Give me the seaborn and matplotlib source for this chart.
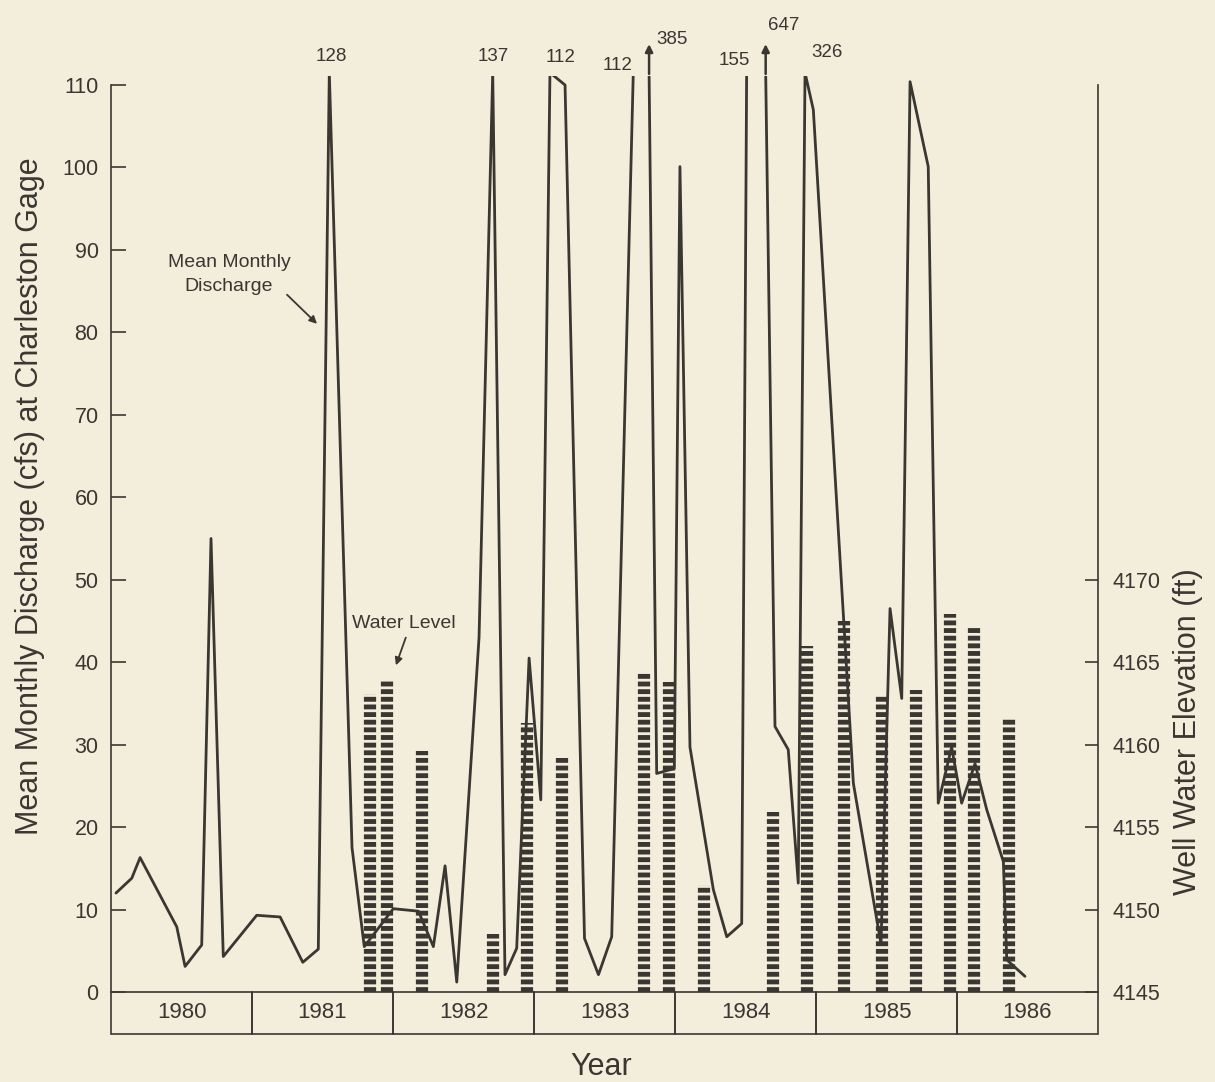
import numpy as np
import matplotlib
matplotlib.use("Agg")
import matplotlib.pyplot as plt
from matplotlib.patches import Rectangle
import seaborn as sns

# ---------------- data ----------------
# mean monthly discharge (cfs) at Charleston gage, time as decimal year
discharge_time = [1980.035, 1980.147, 1980.206, 1980.466, 1980.525, 1980.643, 1980.709, 1980.796,
                  1981.033, 1981.199, 1981.360, 1981.470, 1981.548, 1981.709, 1981.796,
                  1982.002, 1982.180, 1982.286, 1982.369, 1982.452, 1982.610, 1982.707, 1982.794,
                  1982.877, 1982.965, 1983.048, 1983.113, 1983.220, 1983.358, 1983.457, 1983.551,
                  1983.704, 1983.816, 1983.870, 1983.995, 1984.035, 1984.106, 1984.272, 1984.367,
                  1984.473, 1984.508, 1984.643, 1984.709, 1984.803, 1984.874, 1984.922, 1984.981,
                  1985.265, 1985.461, 1985.525, 1985.608, 1985.667, 1985.796, 1985.867, 1985.962,
                  1986.033, 1986.128, 1986.211, 1986.329, 1986.353, 1986.482]
discharge_cfs = [12.0, 13.8, 16.3, 7.9, 3.1, 5.7, 55.0, 4.3,
                 9.3, 9.1, 3.6, 5.2, 128, 17.5, 5.5,
                 10.1, 9.8, 5.5, 15.3, 1.2, 43.0, 137, 2.1,
                 5.3, 40.5, 23.3, 112, 110, 6.5, 2.1, 6.7,
                 112, 385, 26.5, 27.1, 100.1, 29.7, 12.4, 6.7,
                 8.3, 155, 647, 32.2, 29.4, 13.2, 326, 107,
                 25.3, 5.8, 46.5, 35.6, 110.4, 100.1, 22.9, 29.7,
                 22.9, 27.7, 22.1, 15.8, 3.9, 1.9]

# off-scale peaks labelled with their values
peak_labels = ["128", "137", "112", "112", "385", "155", "647", "326"]
peak_label_x = [1981.565, 1982.711, 1983.191, 1983.592, 1983.977, 1984.418, 1984.773, 1985.076]
peak_label_y = [113.4, 113.5, 113.3, 112.4, 115.5, 113.0, 117.2, 114.0]
arrow_peaks_x = [1983.816, 1984.643]   # 385 and 647 continue upward

# well water elevation (ft)
level_time = [1981.837, 1981.960, 1982.204, 1982.707, 1982.948, 1983.196, 1983.782, 1983.960,
              1984.208, 1984.693, 1984.938, 1985.201, 1985.466, 1985.709, 1985.950, 1986.123,
              1986.369]
level_ft = [4163.1, 4164.0, 4159.6, 4148.5, 4161.3, 4159.2, 4164.4, 4163.8,
            4151.5, 4155.9, 4166.0, 4167.5, 4163.0, 4163.3, 4167.9, 4167.2,
            4161.6]

years = [1980, 1981, 1982, 1983, 1984, 1985, 1986]
left_ticks = list(range(0, 111, 10))
right_ticks = list(range(4145, 4171, 5))

# ---------------- style ----------------
BG = "#f2eedb"
INK = "#3a3632"
CAP = 111.5
YTOP = 118.0

sns.set_style("white")
plt.rcParams["font.family"] = ["Liberation Sans", "DejaVu Sans"]
plt.rcParams["lines.scale_dashes"] = False
plt.rcParams["text.color"] = INK

fig = plt.figure(figsize=(12.15, 10.82), dpi=100, facecolor=BG)
ax = fig.add_axes([0.0914, 0.0832, 0.8123, 0.8992])
ax.set_facecolor(BG)

disp = np.minimum(np.array(discharge_cfs, dtype=float), CAP)
sns.lineplot(x=discharge_time, y=disp, ax=ax, sort=False, estimator=None,
             color=INK, linewidth=2.0, zorder=3)
line = ax.lines[-1]
clip = Rectangle((1979.0, -10), 10, 10 + CAP - 0.35, transform=ax.transData)
line.set_clip_path(clip)

ax.set_xlim(1980, 1987)
ax.set_ylim(0, YTOP)
ax.set_xticks([])
ax.set_yticks(left_ticks)
ax.tick_params(axis="y", direction="in", length=11, width=1.2, pad=9,
               labelsize=15.5, colors=INK, left=True)
for s in ["top", "right", "bottom"]:
    ax.spines[s].set_visible(False)
ax.spines["left"].set_bounds(0, 110)
ax.spines["left"].set_color(INK)
ax.spines["left"].set_linewidth(1.2)

# right axis (well elevation): 2 cfs per ft, 0 cfs = 4145 ft
ax2 = ax.twinx()
ax2.set_ylim(4145, 4145 + YTOP / 2)
ax2.vlines(level_time, 4145, level_ft, colors=INK, linewidth=8.8,
           linestyles=[(0, (3.5, 2.0))], zorder=2)
ax2.set_yticks(right_ticks)
ax2.tick_params(axis="y", direction="in", length=9.5, width=1.2, pad=10.5,
                labelsize=15.5, colors=INK, right=True)
for s in ["top", "left", "bottom"]:
    ax2.spines[s].set_visible(False)
ax2.spines["right"].set_bounds(4145, 4200)
ax2.spines["right"].set_color(INK)
ax2.spines["right"].set_linewidth(1.2)

# peak value labels
for lab, lx, ly in zip(peak_labels, peak_label_x, peak_label_y):
    ax.text(lx, ly, lab, ha="center", va="center", fontsize=13.5, color=INK, clip_on=False)
for px in arrow_peaks_x:
    ax.annotate("", xy=(px, CAP + 3.8), xytext=(px, CAP - 0.5),
                arrowprops=dict(arrowstyle="-|>", color=INK, lw=1.8, mutation_scale=11),
                annotation_clip=False)

# call-outs
ax.text(1980.837, 87.0, "Mean Monthly\nDischarge", ha="center", va="center",
        fontsize=14, linespacing=1.5, color=INK)
ax.annotate("", xy=(1981.475, 80.8), xytext=(1981.234, 84.8),
            arrowprops=dict(arrowstyle="-|>", color=INK, lw=1.3, mutation_scale=11))
ax.text(1982.078, 44.75, "Water Level", ha="center", va="center", fontsize=14, color=INK)
ax.annotate("", xy=(1982.014, 39.3), xytext=(1982.097, 43.3),
            arrowprops=dict(arrowstyle="-|>", color=INK, lw=1.3, mutation_scale=11))

# year boxes below the axis
tr = ax.get_xaxis_transform()
bh = 0.0432
for yr in years:
    ax.add_patch(Rectangle((yr, -bh), 1, bh, transform=tr, fill=False,
                           edgecolor=INK, lw=1.2, clip_on=False))
    ax.text(yr + 0.5, -bh / 2, str(yr), transform=tr, ha="center", va="center",
            fontsize=16, color=INK, clip_on=False)

fig.text(0.495, 0.0139, "Year", ha="center", va="center", fontsize=22, color=INK)
fig.text(0.0247, 0.5416, "Mean Monthly Discharge (cfs) at Charleston Gage", rotation=90,
         ha="center", va="center", fontsize=22, color=INK)
fig.text(0.978, 0.3238, "Well Water Elevation (ft)", rotation=90,
         ha="center", va="center", fontsize=22, color=INK)

fig.savefig("out.png", dpi=100, facecolor=BG)
